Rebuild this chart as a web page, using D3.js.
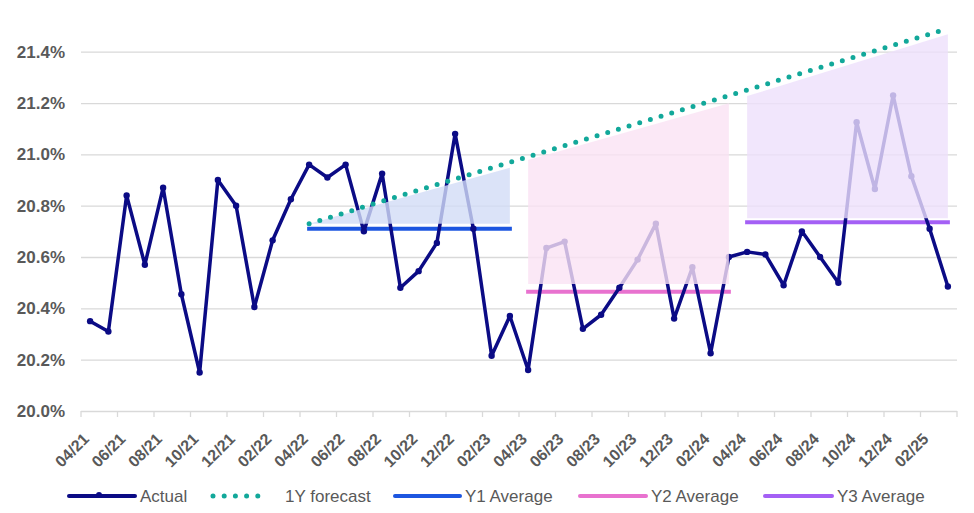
<html>
  <head>
    <script src="https://cdnjs.cloudflare.com/ajax/libs/d3/7.8.5/d3.min.js"></script>
  </head>
  <body style="margin:0;background:#fff;font-family:'Liberation Sans',Arial,sans-serif;">
    <div id="chart"></div>
    <script>

// D A T A

      const months = [
        "04/21","05/21","06/21","07/21","08/21","09/21","10/21","11/21","12/21","01/22","02/22","03/22",
        "04/22","05/22","06/22","07/22","08/22","09/22","10/22","11/22","12/22","01/23","02/23","03/23",
        "04/23","05/23","06/23","07/23","08/23","09/23","10/23","11/23","12/23","01/24","02/24","03/24",
        "04/24","05/24","06/24","07/24","08/24","09/24","10/24","11/24","12/24","01/25","02/25","03/25"
      ]

      const actual = [
        20.35, 20.31, 20.84, 20.57, 20.87, 20.455, 20.15, 20.90, 20.80, 20.405, 20.665, 20.825,
        20.96, 20.91, 20.96, 20.70, 20.925, 20.48, 20.545, 20.655, 21.08, 20.71, 20.215, 20.37,
        20.16, 20.635, 20.66, 20.32, 20.375, 20.48, 20.59, 20.73, 20.36, 20.56, 20.225, 20.60,
        20.62, 20.61, 20.49, 20.70, 20.60, 20.50, 21.125, 20.865, 21.23, 20.915, 20.71, 20.485
      ]

      // straight 1Y forecast line, start and end
      const forecast = [
        {month: "04/22", value: 20.73},
        {month: "03/25", value: 21.49}
      ]

      const averages = [
        {key: "y1", from: "04/22", to: "03/23", value: 20.71},
        {key: "y2", from: "04/23", to: "03/24", value: 20.465},
        {key: "y3", from: "04/24", to: "03/25", value: 20.735}
      ]

      // shaded wedges between average and forecast
      const bands = [
        {key: "y1", from: "04/22", to: "03/23", bottom: 20.73, topStart: 20.73, topEnd: 20.948},
        {key: "y2", from: "04/23", to: "03/24", bottom: 20.495, topStart: 20.978, topEnd: 21.199},
        {key: "y3", from: "04/24", to: "03/25", bottom: 20.751, topStart: 21.227, topEnd: 21.468}
      ]

      const yTicks = [20.0, 20.2, 20.4, 20.6, 20.8, 21.0, 21.2, 21.4]

      const legendItems = [
        {key: "actual", label: "Actual"},
        {key: "forecast", label: "1Y forecast"},
        {key: "y1", label: "Y1 Average"},
        {key: "y2", label: "Y2 Average"},
        {key: "y3", label: "Y3 Average"}
      ]

      const colors = {
        actual: "#0b0b85",
        forecast: "#12a89a",
        y1: "#1d56e0",
        y2: "#e872cf",
        y3: "#a460f5",
        y1band: "#d2dcf6",
        y2band: "#fae2f4",
        y3band: "#eee0fb",
        grid: "#d9d9d9",
        text: "#595959"
      }


// S C A L E S

      const W = 974, H = 513
      const plotLeft = 81, plotRight = 957, plotBottom = 411, plotTop = 51.7

      const svg = d3.select("#chart").append("svg")
        .attr("width", W)
        .attr("height", H)

      const x = d3.scaleBand()
        .domain(months)
        .range([plotLeft, plotRight])
        .padding(0)
      const cx = m => x(m) + x.bandwidth() / 2

      const y = d3.scaleLinear()
        .domain([20.0, 21.4])
        .range([plotBottom, plotTop])


// A X E S

      const yAxis = svg.append("g")
        .attr("transform", `translate(${plotLeft},0)`)
        .call(d3.axisLeft(y)
          .tickValues(yTicks)
          .tickSize(-(plotRight - plotLeft))
          .tickPadding(16)
          .tickFormat(d => d.toFixed(1) + "%"))
      yAxis.select(".domain").remove()
      yAxis.selectAll("line")
        .attr("stroke", colors.grid)
        .attr("stroke-width", 1.3)
      yAxis.selectAll("text")
        .attr("fill", colors.text)
        .style("font-size", "17px")
        .style("font-weight", "bold")
        .style("font-family", "'Liberation Sans', Arial, sans-serif")

      // tick marks every two months on band edges
      const edges = months.filter((m, i) => i % 2 == 0).map(m => x(m)).concat([plotRight])
      svg.append("g")
        .selectAll("line")
        .data(edges)
        .join("line")
          .attr("x1", d => d).attr("x2", d => d)
          .attr("y1", plotBottom).attr("y2", plotBottom + 6)
          .attr("stroke", colors.grid)
          .attr("stroke-width", 1.3)

      svg.append("g")
        .selectAll("text")
        .data(months.filter((m, i) => i % 2 == 0))
        .join("text")
          .attr("transform", d => `translate(${cx(d)},${plotBottom + 29}) rotate(-45)`)
          .attr("text-anchor", "end")
          .attr("fill", colors.text)
          .style("font-size", "16px")
          .style("font-weight", "bold")
          .text(d => d)


// R E N D E R

      svg.append("g")
        .selectAll("line")
        .data(averages)
        .join("line")
          .attr("x1", d => cx(d.from))
          .attr("x2", d => cx(d.to))
          .attr("y1", d => y(d.value))
          .attr("y2", d => y(d.value))
          .attr("stroke", d => colors[d.key])
          .attr("stroke-width", 4)
          .attr("stroke-linecap", "square")

      const line = d3.line()
        .x((d, i) => cx(months[i]))
        .y(d => y(d))

      svg.append("path")
        .datum(actual)
        .attr("d", line)
        .attr("fill", "none")
        .attr("stroke", colors.actual)
        .attr("stroke-width", 3.5)
        .attr("stroke-linejoin", "round")

      svg.append("g")
        .selectAll("circle")
        .data(actual)
        .join("circle")
          .attr("cx", (d, i) => cx(months[i]))
          .attr("cy", d => y(d))
          .attr("r", 3.2)
          .attr("fill", colors.actual)

      const area = d3.area()
        .x(d => cx(d.m))
        .y0(d => y(d.lo))
        .y1(d => y(d.hi))

      svg.append("g")
        .selectAll("path")
        .data(bands)
        .join("path")
          .attr("d", b => area([
            {m: b.from, lo: b.bottom, hi: b.topStart},
            {m: b.to, lo: b.bottom, hi: b.topEnd}
          ]))
          .attr("fill", b => colors[b.key + "band"])
          .attr("fill-opacity", 0.8)

      svg.append("path")
        .datum(forecast)
        .attr("d", d3.line().x(d => cx(d.month)).y(d => y(d.value)))
        .attr("fill", "none")
        .attr("stroke", colors.forecast)
        .attr("stroke-width", 5)
        .attr("stroke-linecap", "round")
        .attr("stroke-dasharray", "0 11.15")


// L E G E N D

      const legendX = [69, 213, 395, 580, 765]
      const legendW = [66, 56, 65, 66, 67]
      const ly = 496

      const legend = svg.append("g")
        .selectAll("g")
        .data(legendItems)
        .join("g")
          .attr("transform", (d, i) => `translate(${legendX[i]},${ly})`)

      legend.append("line")
        .attr("x1", 0)
        .attr("x2", (d, i) => legendW[i])
        .attr("stroke", d => colors[d.key])
        .attr("stroke-width", d => d.key == "forecast" ? 5 : 4)
        .attr("stroke-linecap", "round")
        .attr("stroke-dasharray", d => d.key == "forecast" ? "0 11.2" : null)

      legend.filter(d => d.key == "actual")
        .append("circle")
          .attr("cx", 30)
          .attr("cy", -1)
          .attr("r", 3)
          .attr("fill", colors.actual)

      legend.append("text")
        .attr("x", (d, i) => legendW[i] + (d.key == "forecast" ? 16 : 5))
        .attr("y", 6)
        .attr("fill", colors.text)
        .style("font-size", "17px")
        .text(d => d.label)

    </script>
  </body>
</html>
